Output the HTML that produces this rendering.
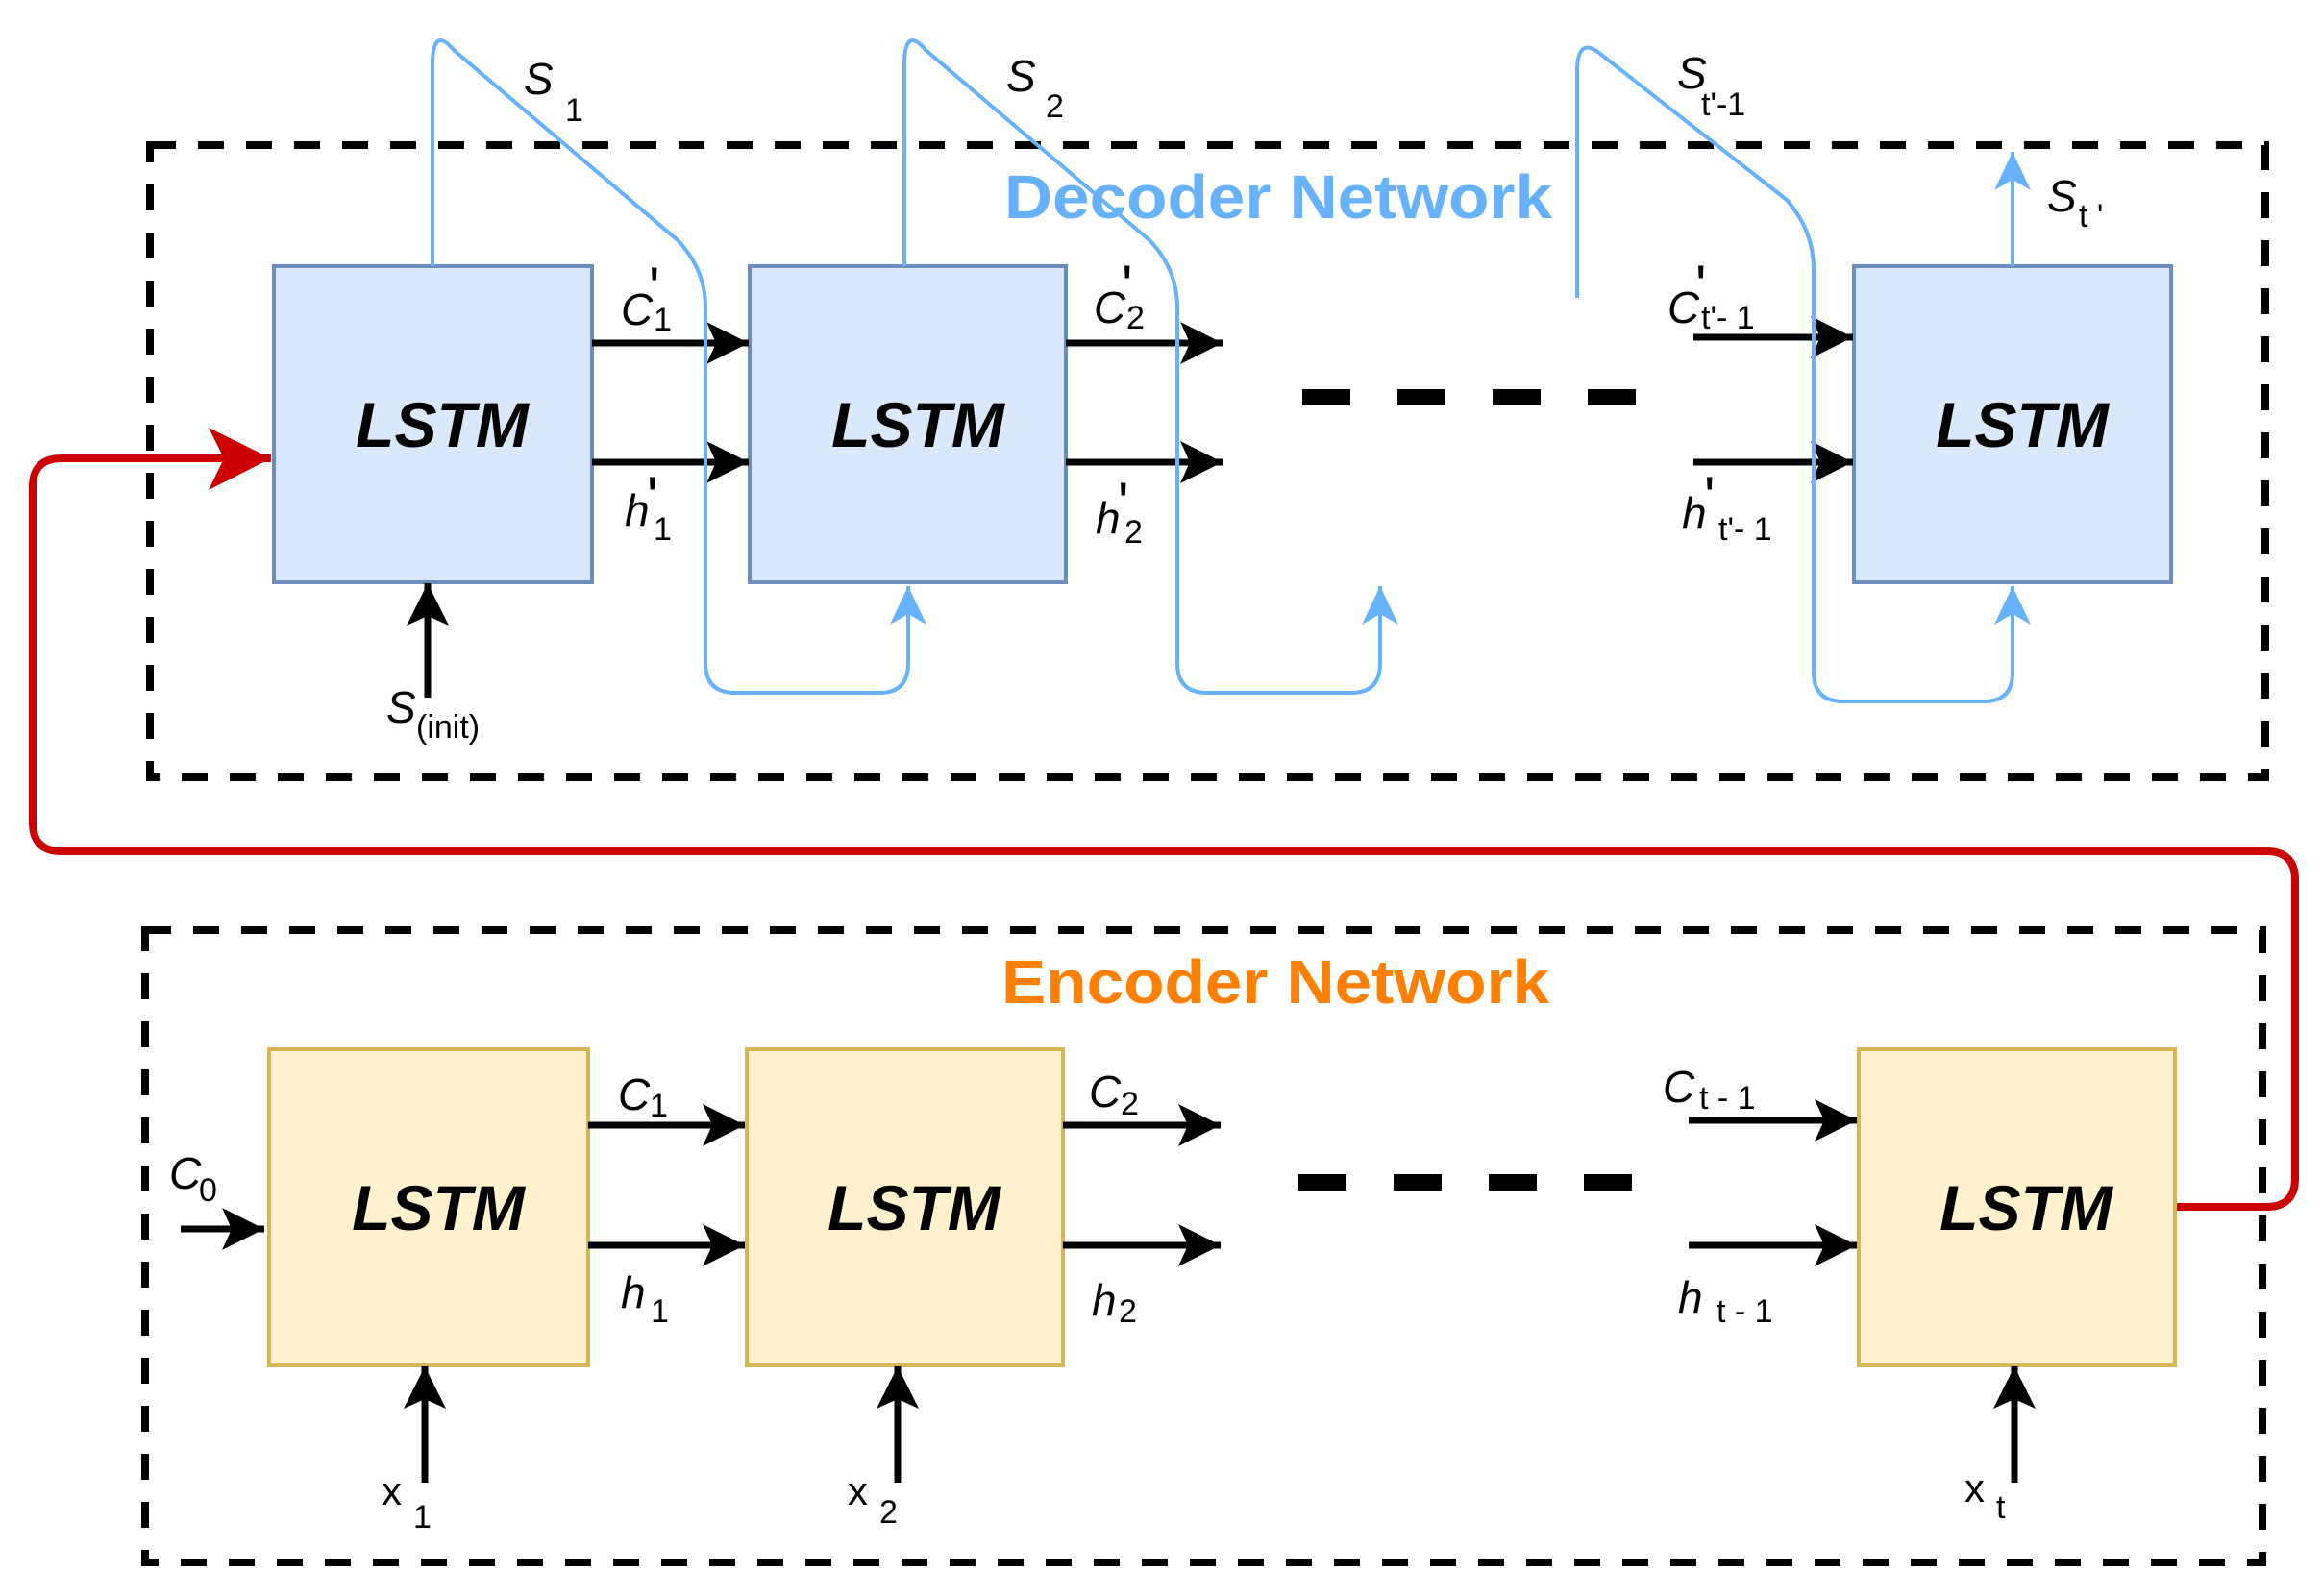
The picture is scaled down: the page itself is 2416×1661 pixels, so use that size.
<!DOCTYPE html>
<html><head><meta charset="utf-8"><style>
html,body{margin:0;padding:0;background:#fff;}
svg{display:block;}
text{font-family:"Liberation Sans",Arial,sans-serif;}
.lb{font-size:46px;font-style:italic;fill:#000;}
.sb{font-size:34px;fill:#000;}
.pr{font-size:60px;fill:#000;}
.xx{font-size:42px;fill:#000;}
.lstm{font-size:66px;font-weight:bold;font-style:italic;fill:#000;}
</style></head><body>
<svg width="2416" height="1661" viewBox="0 0 2416 1661" xmlns="http://www.w3.org/2000/svg">
<defs>
<marker id="ab" markerUnits="userSpaceOnUse" markerWidth="46" markerHeight="46" refX="44" refY="22" orient="auto" viewBox="0 0 46 46">
<path d="M0,0 L44,22 L0,44 L10,22 Z" fill="#000"/></marker>
<marker id="au" markerUnits="userSpaceOnUse" markerWidth="42" markerHeight="42" refX="40" refY="19" orient="auto" viewBox="0 0 42 42">
<path d="M0,0 L40,19 L0,38 L11,19 Z" fill="#66b2ff"/></marker>
<marker id="ar" markerUnits="userSpaceOnUse" markerWidth="68" markerHeight="68" refX="65" refY="32" orient="auto" viewBox="0 0 68 68">
<path d="M0,0 L65,32 L0,65 L16,32 Z" fill="#cc0000"/></marker>
</defs>

<rect x="156" y="151" width="2201" height="658" fill="none" stroke="#000" stroke-width="8" stroke-dasharray="27 23"/>
<rect x="151" y="968" width="2203" height="658" fill="none" stroke="#000" stroke-width="8" stroke-dasharray="27 23"/>

<text x="1330" y="227" text-anchor="middle" font-size="64" font-weight="bold" fill="#66b2ff" textLength="570" lengthAdjust="spacingAndGlyphs">Decoder Network</text>
<text x="1327" y="1044" text-anchor="middle" font-size="64" font-weight="bold" fill="#ff8000" textLength="570" lengthAdjust="spacingAndGlyphs">Encoder Network</text>

<path d="M2265,1256 L2358,1256 Q2388,1256 2388,1226 L2388,916 Q2388,886 2358,886 L64,886 Q34,886 34,856 L34,507 Q34,477 64,477 L282,477" fill="none" stroke="#cc0000" stroke-width="8" marker-end="url(#ar)"/>

<rect x="285" y="277" width="331" height="329" fill="#dae8fc" stroke="#6c8ebf" stroke-width="4"/>
<rect x="780" y="277" width="329" height="329" fill="#dae8fc" stroke="#6c8ebf" stroke-width="4"/>
<rect x="1929" y="277" width="330" height="329" fill="#dae8fc" stroke="#6c8ebf" stroke-width="4"/>
<text class="lstm" x="460" y="465" text-anchor="middle">LSTM</text>
<text class="lstm" x="955" y="465" text-anchor="middle">LSTM</text>
<text class="lstm" x="2104" y="465" text-anchor="middle">LSTM</text>

<rect x="280" y="1092" width="332" height="329" fill="#fff2cc" stroke="#d6b656" stroke-width="4"/>
<rect x="777" y="1092" width="329" height="329" fill="#fff2cc" stroke="#d6b656" stroke-width="4"/>
<rect x="1934" y="1092" width="329" height="329" fill="#fff2cc" stroke="#d6b656" stroke-width="4"/>
<text class="lstm" x="456" y="1280" text-anchor="middle">LSTM</text>
<text class="lstm" x="951" y="1280" text-anchor="middle">LSTM</text>
<text class="lstm" x="2108" y="1280" text-anchor="middle">LSTM</text>

<g stroke="#000" stroke-width="7" fill="none" marker-end="url(#ab)">
<line x1="616" y1="357" x2="779" y2="357"/>
<line x1="616" y1="481" x2="779" y2="481"/>
<line x1="1109" y1="357" x2="1272" y2="357"/>
<line x1="1109" y1="481" x2="1272" y2="481"/>
<line x1="1762" y1="351" x2="1928" y2="351"/>
<line x1="1762" y1="481" x2="1928" y2="481"/>
<line x1="445" y1="726" x2="445" y2="607"/>
<line x1="612" y1="1171" x2="775" y2="1171"/>
<line x1="612" y1="1296" x2="775" y2="1296"/>
<line x1="1106" y1="1171" x2="1270" y2="1171"/>
<line x1="1106" y1="1296" x2="1270" y2="1296"/>
<line x1="1757" y1="1166" x2="1932" y2="1166"/>
<line x1="1757" y1="1296" x2="1932" y2="1296"/>
<line x1="188" y1="1279" x2="275" y2="1279"/>
<line x1="442" y1="1543" x2="442" y2="1422"/>
<line x1="934" y1="1543" x2="934" y2="1422"/>
<line x1="2096" y1="1543" x2="2096" y2="1422"/>
</g>

<g fill="#000">
<rect x="1355" y="405" width="50" height="17"/><rect x="1454" y="405" width="50" height="17"/><rect x="1553" y="405" width="50" height="17"/><rect x="1652" y="405" width="50" height="17"/>
<rect x="1351" y="1222" width="50" height="17"/><rect x="1450" y="1222" width="50" height="17"/><rect x="1549" y="1222" width="50" height="17"/><rect x="1648" y="1222" width="50" height="17"/>
</g>

<g stroke="#66b2ff" stroke-width="4" fill="none">
<path d="M450,277 L450,62 Q452,28 472,52 L705,250 Q734,280 734,320 L734,690 Q734,721 765,721 L915,721 Q945,721 945,690 L945,610" marker-end="url(#au)"/>
<path d="M941,277 L941,62 Q943,28 963,52 L1196,250 Q1225,280 1225,320 L1225,690 Q1225,721 1256,721 L1406,721 Q1436,721 1436,690 L1436,610" marker-end="url(#au)"/>
<path d="M1641,310 L1641,70 Q1643,38 1665,56 L1859,208 Q1887,240 1887,280 L1887,700 Q1887,730 1918,730 L2064,730 Q2094,730 2094,700 L2094,610" marker-end="url(#au)"/>
<path d="M2094,277 L2094,158" marker-end="url(#au)"/>
</g>

<text class="lb" x="545" y="98">S</text><text class="sb" x="588" y="126">1</text>
<text class="lb" x="1047" y="95">S</text><text class="sb" x="1088" y="122">2</text>
<text class="lb" x="1745" y="92">S</text><text class="sb" x="1770" y="120">t'-1</text>
<text class="lb" x="2130" y="220">S</text><text class="sb" x="2163" y="236">t '</text>
<text class="lb" x="646" y="338">C</text><text class="pr" x="675" y="320">'</text><text class="sb" x="680" y="344">1</text>
<text class="lb" x="1138" y="336">C</text><text class="pr" x="1167" y="318">'</text><text class="sb" x="1172" y="342">2</text>
<text class="lb" x="1735" y="336">C</text><text class="pr" x="1764" y="318">'</text><text class="sb" x="1770" y="342">t'- 1</text>
<text class="lb" x="650" y="547">h</text><text class="pr" x="673" y="538">'</text><text class="sb" x="680" y="562">1</text>
<text class="lb" x="1140" y="555">h</text><text class="pr" x="1163" y="544">'</text><text class="sb" x="1170" y="565">2</text>
<text class="lb" x="1750" y="550">h</text><text class="pr" x="1773" y="538">'</text><text class="sb" x="1788" y="562">t'- 1</text>
<text class="lb" x="402" y="752">S</text><text class="sb" x="433" y="768">(init)</text>

<text class="lb" x="643" y="1155">C</text><text class="sb" x="676" y="1162">1</text>
<text class="lb" x="1133" y="1152">C</text><text class="sb" x="1166" y="1160">2</text>
<text class="lb" x="1730" y="1147">C</text><text class="sb" x="1768" y="1154">t - 1</text>
<text class="lb" x="646" y="1361">h</text><text class="sb" x="677" y="1376">1</text>
<text class="lb" x="1136" y="1369">h</text><text class="sb" x="1164" y="1376">2</text>
<text class="lb" x="1746" y="1366">h</text><text class="sb" x="1786" y="1376">t - 1</text>
<text class="lb" x="176" y="1237">C</text><text class="sb" x="207" y="1250">0</text>
<text class="xx" x="397" y="1566">x</text><text class="sb" x="430" y="1590">1</text>
<text class="xx" x="882" y="1566">x</text><text class="sb" x="915" y="1585">2</text>
<text class="xx" x="2044" y="1563">x</text><text class="sb" x="2077" y="1580">t</text>
</svg>
</body></html>
